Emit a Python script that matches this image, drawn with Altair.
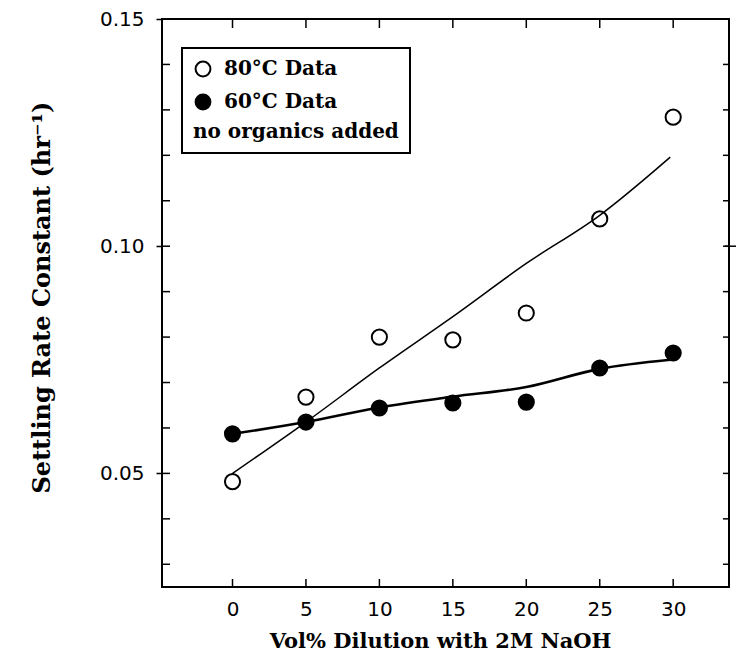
import altair as alt
import pandas as pd

# Measured settling-rate constants (hr^-1) vs. vol% dilution with 2M NaOH
dilution = [0, 5, 10, 15, 20, 25, 30]
k_80c = [0.0482, 0.0668, 0.0800, 0.0794, 0.0853, 0.1060, 0.1284]
k_60c = [0.0587, 0.0613, 0.0644, 0.0655, 0.0657, 0.0732, 0.0765]

# Smoothed trend curves drawn through each data set
fit_x = [0, 5, 10, 15, 20, 25, 29.8]
fit_80c = [0.0500, 0.0613, 0.0732, 0.0845, 0.0962, 0.1068, 0.1196]
fit_60c = [0.0587, 0.0613, 0.0645, 0.0669, 0.0690, 0.0730, 0.0750]

series_names = ["80°C Data", "60°C Data"]
x_ticks = [0, 5, 10, 15, 20, 25, 30]
y_major = [0.05, 0.10, 0.15]
y_minor = [0.03, 0.04, 0.05, 0.06, 0.07, 0.08, 0.09, 0.10, 0.11, 0.12, 0.13, 0.14]

W, H = 567, 568
SERIF = "DejaVu Serif"
SANS = "DejaVu Sans"

points = pd.DataFrame(
    {
        "dilution": dilution * 2,
        "k": k_80c + k_60c,
        "series": [series_names[0]] * len(dilution) + [series_names[1]] * len(dilution),
    }
)
fit80 = pd.DataFrame({"dilution": fit_x, "k": fit_80c})
fit60 = pd.DataFrame({"dilution": fit_x, "k": fit_60c})
xt = pd.DataFrame({"t": x_ticks})
yt = pd.DataFrame({"t": y_minor})
ymaj = pd.DataFrame({"t": [0.10]})

xscale = alt.Scale(domain=[-4.8, 33.8], nice=False, zero=False)
yscale = alt.Scale(domain=[0.025, 0.15], nice=False, zero=False)

x_enc = alt.X(
    "dilution:Q",
    scale=xscale,
    axis=alt.Axis(
        values=x_ticks,
        ticks=False,
        domain=False,
        grid=False,
        labelFont=SANS,
        labelFontSize=20,
        labelColor="black",
        labelPadding=12,
        title="Vol% Dilution with 2M NaOH",
        titleFont=SERIF,
        titleFontSize=21,
        titleFontWeight="bold",
        titleColor="black",
        titleX=278,
        titleY=54,
        titleBaseline="middle",
    ),
)
y_enc = alt.Y(
    "k:Q",
    scale=yscale,
    axis=alt.Axis(
        values=y_major,
        format=".2f",
        tickSize=6,
        tickWidth=1.5,
        tickColor="black",
        domain=False,
        grid=False,
        labelFont=SANS,
        labelFontSize=20,
        labelColor="black",
        labelPadding=12,
        title="Settling Rate Constant (hr⁻¹)",
        titleFont=SERIF,
        titleFontSize=24,
        titleFontWeight="bold",
        titleColor="black",
        titleX=-120,
        titleY=H / 2 - 6,
        titleAngle=270,
        titleAlign="center",
        titleBaseline="middle",
    ),
)

line80 = alt.Chart(fit80).mark_line(color="black", strokeWidth=1.5, interpolate="monotone").encode(
    x=x_enc, y=y_enc
)
line60 = alt.Chart(fit60).mark_line(color="black", strokeWidth=2.6, interpolate="monotone").encode(
    x="dilution:Q", y="k:Q"
)

dots = alt.Chart(points).mark_point(
    filled=True, stroke="black", strokeWidth=2, size=230, opacity=1, shape="circle"
).encode(
    x="dilution:Q",
    y="k:Q",
    fill=alt.Fill(
        "series:N",
        scale=alt.Scale(domain=series_names, range=["transparent", "black"]),
        legend=alt.Legend(
            title="no organics added",
            titleOrient="bottom",
            titleAnchor="start",
            titleFont=SERIF,
            titleFontSize=20,
            titleFontWeight="bold",
            titleColor="black",
            titlePadding=9,
            titleLimit=400,
            labelFont=SERIF,
            labelFontSize=20,
            labelFontWeight="bold",
            labelColor="black",
            labelOffset=11,
            labelLimit=300,
            symbolType="circle",
            symbolSize=220,
            symbolStrokeColor="black",
            symbolStrokeWidth=2,
            rowPadding=9,
            orient="none",
            legendX=20,
            legendY=29,
            padding=11,
            strokeColor="black",
            fillColor="white",
        ),
    ),
)

# Inward-pointing ticks on all four sides of the frame
tick_style = dict(color="black", strokeWidth=1.5)
bottom_ticks = alt.Chart(xt).mark_rule(**tick_style).encode(
    x=alt.X("t:Q", scale=xscale), y=alt.value(H), y2=alt.value(H - 8)
)
top_ticks = alt.Chart(xt).mark_rule(**tick_style).encode(
    x=alt.X("t:Q", scale=xscale), y=alt.value(0), y2=alt.value(9)
)
left_ticks = alt.Chart(yt).mark_rule(**tick_style).encode(
    y=alt.Y("t:Q", scale=yscale), x=alt.value(0), x2=alt.value(8)
)
right_ticks = alt.Chart(yt).mark_rule(**tick_style).encode(
    y=alt.Y("t:Q", scale=yscale), x=alt.value(W - 6), x2=alt.value(W)
)
right_major = alt.Chart(ymaj).mark_rule(**tick_style).encode(
    y=alt.Y("t:Q", scale=yscale), x=alt.value(W - 4), x2=alt.value(W + 7)
)

chart = (
    alt.layer(line80, line60, bottom_ticks, top_ticks, left_ticks, right_ticks, right_major, dots)
    .properties(
        width=W,
        height=H,
        autosize=alt.AutoSizeParams(type="none"),
        padding={"left": 162, "top": 19, "right": 7, "bottom": 70},
        background="white",
    )
    .configure_view(stroke="black", strokeWidth=2)
    .configure_legend(strokeWidth=2)
)

chart.save("out.html", embed_options={"renderer": "svg", "actions": False})
